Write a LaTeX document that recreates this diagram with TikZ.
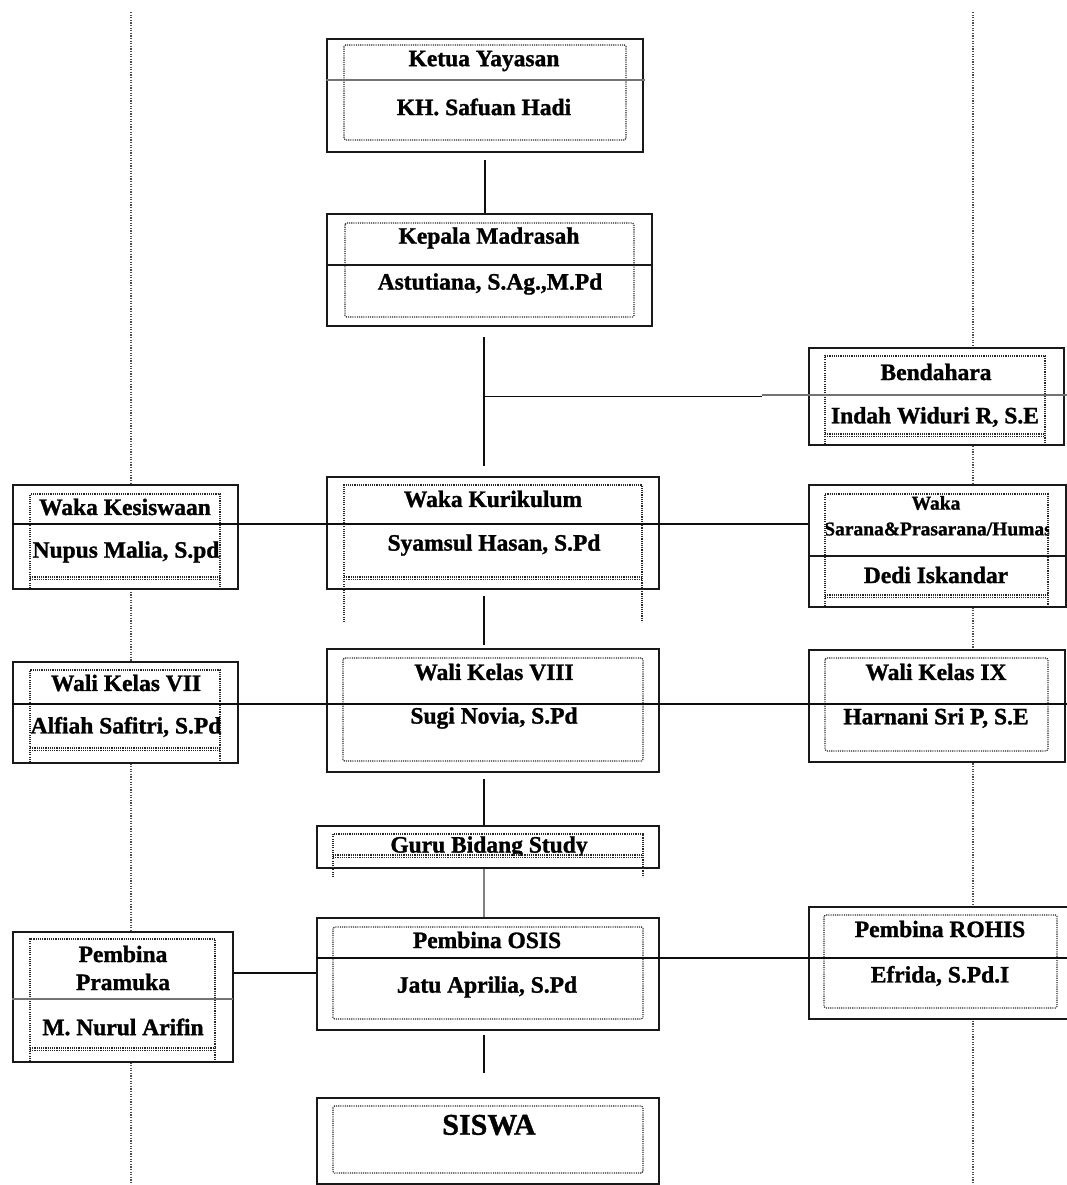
\documentclass[tikz,border=0pt]{standalone}
\usepackage{fontspec}
\setmainfont{Liberation Serif}[BoldFeatures={FakeBold=1.2}]
\begin{document}
\begin{tikzpicture}[x=1pt,y=-1pt,
  outerbox/.style={draw=black!90, line width=1.8pt, fill=white, inner sep=0pt, anchor=north west},
  dotbox/.style={draw=black!85, line width=1.1pt, dash pattern=on 1.1pt off 1.1pt, rounded corners=1.5pt},
  dotln/.style={draw=black!85, line width=1.1pt, dash pattern=on 1.1pt off 1.1pt},
  sepline/.style={draw=black!55, line width=2.2pt},
  sepdark/.style={draw=black!90, line width=1.6pt},
  conn/.style={draw=black!95, line width=1.6pt},
  conngray/.style={draw=black!50, line width=2.6pt},
  guide/.style={draw=black!70, line width=1.2pt, dash pattern=on 1.2pt off 1.4pt},
  lbl/.style={font=\bfseries\fontsize{23.5}{26}\selectfont, inner sep=0pt, text=black},
  lblsmall/.style={font=\bfseries\fontsize{19.5}{22}\selectfont, inner sep=0pt, text=black},
  lblbig/.style={font=\bfseries\fontsize{30}{33}\selectfont, inner sep=0pt, text=black}
]
\useasboundingbox (0,0) rectangle (1067,1185);
\fill[white] (0,0) rectangle (1067,1185);

% guide lines
\draw[guide] (131,12) -- (131,1185);
\draw[guide] (973,12) -- (973,1185);

\coordinate (spine) at (484,0);

% ---------- Ketua Yayasan
\node[outerbox, minimum width=316, minimum height=113] (ketua) at (326,38) {};
\draw[dotbox] (344,45) rectangle (626,140);
\draw[sepline] (326,80) -- (645,80);
\node[lbl] (ketuaT) at (484,61) {Ketua Yayasan};
\node[lbl] (ketuaN) at (484,107) {KH. Safuan Hadi};

% ---------- Kepala Madrasah
\node[outerbox, minimum width=325, minimum height=112] (kepala) at (326,213) {};
\draw[dotbox] (345,223) rectangle (634,317);
\draw[sepdark] (326,265) -- (651,265);
\node[lbl] (kepalaT) at (489,238) {Kepala Madrasah};
\node[lbl] (kepalaN) at (490,284) {Astutiana, S.Ag.,M.Pd};

% ---------- Bendahara
\node[outerbox, minimum width=255, minimum height=97] (bend) at (808,347) {};
\draw[dotln] (825,444) -- (825,356) -- (1045,356) -- (1045,444);
\draw[dotln] (825,434) -- (1045,434);
\draw[dotln] (825,436.5) -- (1045,436.5);
\draw[sepline] (762,395) -- (1067,395);
\node[lbl] (bendT) at (936,372) {Bendahara};
\node[lbl] (bendN) at (935,417) {Indah Widuri R, S.E};

% ---------- Waka Kesiswaan
\node[outerbox, minimum width=225, minimum height=104] (kesis) at (12,484) {};
\draw[dotln] (30,588) -- (30,494) -- (220,494) -- (220,588);
\draw[dotln] (30,577) -- (220,577);
\draw[dotln] (30,579.5) -- (220,579.5);
\node[lbl] (kesisT) at (125,507) {Waka Kesiswaan};
\node[lbl] (kesisN) at (126,552) {Nupus Malia, S.pd};

% ---------- Waka Kurikulum
\node[outerbox, minimum width=332, minimum height=112] (kurik) at (326,476) {};
\draw[dotln] (344,622) -- (344,485) -- (642,485) -- (642,622);
\draw[dotln] (344,577) -- (642,577);
\draw[dotln] (344,579.5) -- (642,579.5);
\node[lbl] (kurikT) at (493,499) {Waka Kurikulum};
\node[lbl] (kurikN) at (494,545) {Syamsul Hasan, S.Pd};

% ---------- Waka Sarana
\node[outerbox, minimum width=257, minimum height=122] (sarana) at (808,484) {};
\draw[dotln] (825,606) -- (825,494) -- (1048,494) -- (1048,606);
\draw[dotln] (825,595) -- (1048,595);
\draw[dotln] (825,597.5) -- (1048,597.5);
\draw[sepdark] (808,556) -- (1067,556);
\node[lblsmall] (saranaT1) at (936,503) {Waka};
\begin{scope}
\clip (826,510) rectangle (1049,550);
\node[lblsmall] (saranaT2) at (938,529) {Sarana\&Prasarana/Humas};
\end{scope}
\node[lbl] (saranaN) at (936,575) {Dedi Iskandar};

% ---------- Wali Kelas VIII
\node[outerbox, minimum width=332, minimum height=123] (wk8) at (326,648) {};
\draw[dotbox] (343,658) rectangle (643,761);
\node[lbl] (wk8T) at (494,672) {Wali Kelas VIII};
\node[lbl] (wk8N) at (494,718) {Sugi Novia, S.Pd};

% ---------- Wali Kelas VII
\node[outerbox, minimum width=225, minimum height=101] (wk7) at (12,661) {};
\draw[dotln] (30,762) -- (30,670) -- (220,670) -- (220,762);
\draw[dotln] (30,748) -- (220,748);
\draw[dotln] (30,750.5) -- (220,750.5);
\node[lbl] (wk7T) at (126,683) {Wali Kelas VII};
\node[lbl] (wk7N) at (126,727) {Alfiah Safitri, S.Pd};

% ---------- Wali Kelas IX
\node[outerbox, minimum width=256, minimum height=112] (wk9) at (808,649) {};
\draw[dotbox] (825,658) rectangle (1048,751);
\node[lbl] (wk9T) at (936,672) {Wali Kelas IX};
\node[lbl] (wk9N) at (936,718) {Harnani Sri P, S.E};

% ---------- Guru Bidang Study
\node[outerbox, minimum width=342, minimum height=42] (guru) at (316,825) {};
\begin{scope}
\clip (316,825) rectangle (658,855.5);
\node[lbl] (guruT) at (489,847) {Guru Bidang Study};
\end{scope}
\draw[dotln] (333,877) -- (333,834) -- (643,834) -- (643,877);
\draw[dotln] (333,855) -- (643,855);
\draw[dotln] (333,857.5) -- (643,857.5);

% ---------- Pembina OSIS
\node[outerbox, minimum width=342, minimum height=112] (osis) at (316,917) {};
\draw[dotbox] (333,927) rectangle (643,1019);
\node[lbl] (osisT) at (487,940) {Pembina OSIS};
\node[lbl] (osisN) at (487,987) {Jatu Aprilia, S.Pd};

% ---------- Pembina Pramuka
\node[outerbox, minimum width=220, minimum height=130] (pram) at (12,931) {};
\draw[dotln] (30,1061) -- (30,939) -- (215,939) -- (215,1061);
\draw[dotln] (30,1048) -- (215,1048);
\draw[dotln] (30,1050.5) -- (215,1050.5);
\draw[sepline] (12,999) -- (233,999);
\node[lbl] (pramT1) at (123,954) {Pembina};
\node[lbl] (pramT2) at (123,982) {Pramuka};
\node[lbl] (pramN) at (123,1027) {M. Nurul Arifin};

% ---------- Pembina ROHIS
\node[outerbox, minimum width=262, minimum height=112] (rohis) at (808,906) {};
\draw[dotbox] (824,915) rectangle (1057,1008);
\node[lbl] (rohisT) at (940,929) {Pembina ROHIS};
\node[lbl] (rohisN) at (940,976) {Efrida, S.Pd.I};

% ---------- SISWA
\node[outerbox, minimum width=342, minimum height=86] (siswa) at (316,1097) {};
\draw[dotbox] (333,1106) rectangle (643,1173);
\node[lblbig] (siswaT) at (489,1125) {SISWA};

% ---------- connectors
\draw[conn, shorten <=7pt] (ketua.south) -- (kepala.north -| ketua.south);
\draw[conn, shorten <=10pt, shorten >=10pt] (kepala.south -| spine) -- (kurik.north -| spine);
\draw[conn, shorten >=46pt] (spine |- bend.west) -- (bend.west);
\draw[conn] ([yshift=13pt]kesis.west) -- ([yshift=22pt]sarana.west);
\draw[conn, shorten <=6pt, shorten >=3pt] (kurik.south -| spine) -- (wk8.north -| spine);
\draw[conn] ([yshift=8.5pt]wk7.west) -- ([xshift=4pt,yshift=2pt]wk9.east);
\draw[conn, shorten <=6pt] (wk8.south -| spine) -- (guru.north -| spine);
\draw[conngray] (guru.south -| spine) -- (osis.north -| spine);
\draw[conn] ([yshift=16pt]osis.west) -- ([yshift=5pt]rohis.east);
\coordinate (pj) at ([yshift=24pt]pram.east);
\draw[conn] (pj) -- (pj -| osis.west);
\draw[conn, shorten <=4pt, shorten >=24pt] (osis.south -| spine) -- (siswa.north -| spine);
\end{tikzpicture}
\end{document}
